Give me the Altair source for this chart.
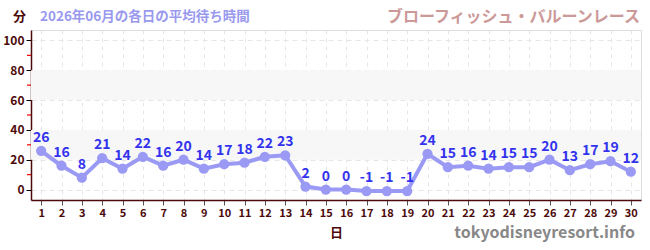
import altair as alt
import pandas as pd

days = list(range(1, 31))
waits = [26, 16, 8, 21, 14, 22, 16, 20, 14, 17, 18, 22, 23, 2, 0, 0, -1, -1, -1,
         24, 15, 16, 14, 15, 15, 20, 13, 17, 19, 12]
band_lo = [20, 60]
band_hi = [40, 80]
minor_ticks = [10, 30, 50, 70, 90]
major_ticks = [0, 20, 40, 60, 80, 100]

FONT = "Noto Sans CJK JP"
df = pd.DataFrame({"day": days, "wait": waits, "lab": [str(v) for v in waits]})
bands = pd.DataFrame({"lo": band_lo, "hi": band_hi})
minor = pd.DataFrame({"v": minor_ticks})

xscale = alt.Scale(domain=[0.5, 30.5], nice=False, zero=False)
yscale = alt.Scale(domain=[-7, 107], nice=False, zero=False)

xaxis = alt.Axis(values=days, title="日", titleFont=FONT, titleFontSize=13,
                 titleColor="#4d0a0a", titleFontWeight="bold", titlePadding=8,
                 labelFont=FONT, labelFontSize=11, labelFontWeight="bold",
                 labelColor="#4d0a0a", tickColor="#555555", tickSize=5,
                 domainColor="#4d0a0a", domainWidth=1.5, labelOverlap=False,
                 grid=True, gridColor="#e6e6e6", gridDash=[4, 4], labelPadding=2)
yaxis = alt.Axis(values=major_ticks, title=None, labelFont=FONT, labelFontSize=12,
                 labelFontWeight="bold", labelColor="#4d0a0a", tickColor="#000000",
                 tickSize=5, domainColor="#4d0a0a", domainWidth=1.5, labelOverlap=False,
                 grid=True, gridColor="#e6e6e6", gridDash=[5, 4], labelPadding=2)

band_layer = alt.Chart(bands).mark_rect(color="#f7f7f7").encode(
    y=alt.Y("lo:Q", scale=yscale, axis=yaxis),
    y2="hi:Q",
    x=alt.value(0), x2=alt.value(610),
)

minor_layer = alt.Chart(minor).mark_rule(color="#ee0000", strokeWidth=1.2).encode(
    y=alt.Y("v:Q", scale=yscale, axis=yaxis),
    x=alt.value(-4), x2=alt.value(0),
)

base = alt.Chart(df).encode(
    x=alt.X("day:Q", scale=xscale, axis=xaxis),
    y=alt.Y("wait:Q", scale=yscale, axis=yaxis),
)
line = base.mark_line(color="#9a9af5", strokeWidth=4)
points = base.mark_circle(color="#9a9af5", opacity=1, size=105)
labels = base.mark_text(font=FONT, fontSize=14, fontWeight="bold", color="#3333ee",
                        baseline="bottom", dy=-6).encode(text="lab:N")

def note(txt, x, y, size, color, align="left", weight="bold"):
    return alt.Chart(pd.DataFrame({"t": [txt]})).mark_text(
        font=FONT, fontSize=size, fontWeight=weight, color=color, align=align,
        baseline="middle").encode(text="t:N", x=alt.value(x), y=alt.value(y))

texts = (note("分", -18, -13, 13, "#4d0a0a")
         + note("2026年06月の各日の平均待ち時間", 9, -13, 13.5, "#9999ee")
         + note("ブローフィッシュ・バルーンレース", 609, -13, 16, "#cc9999", align="right")
         + note("tokyodisneyresort.info", 604, 203, 16, "#888888", align="right"))

chart = alt.layer(band_layer, minor_layer, line, points, labels, texts).properties(
    width=610, height=170,
    padding={"left": 31, "top": 30, "right": 9, "bottom": 50},
    autosize=alt.AutoSizeParams(type="none"),
).configure_view(stroke=None).configure_axis(labelOverlap=False).configure(background="white")

chart.save("out.html", embed_options={"renderer": "svg", "actions": False})
